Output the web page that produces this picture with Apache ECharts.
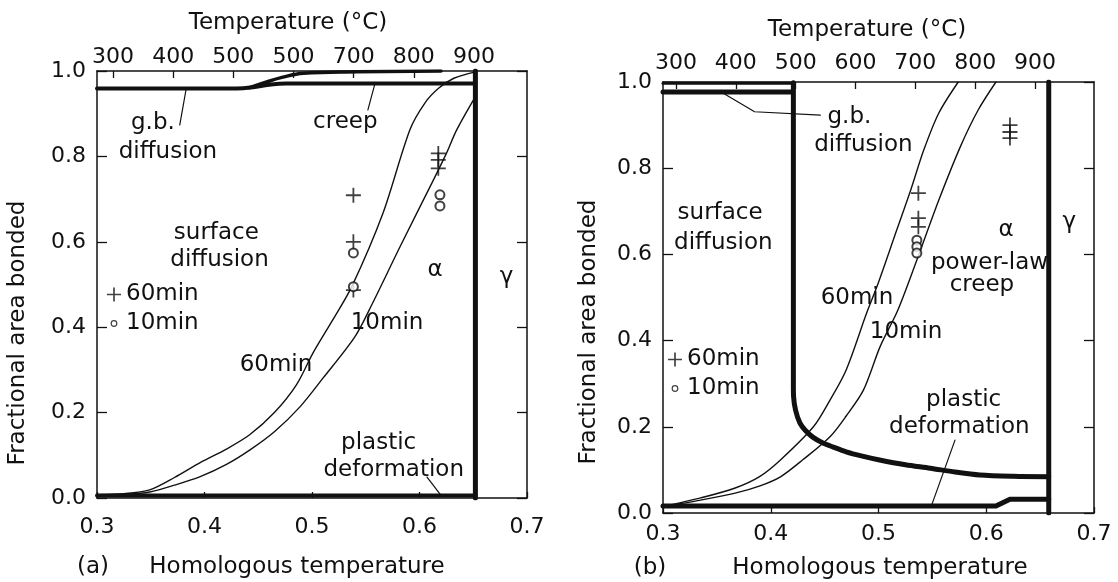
<!DOCTYPE html>
<html>
<head>
    <meta charset="UTF-8" />
    <title>Fractional area bonded</title>
    <script src="https://cdn.jsdelivr.net/npm/echarts@6/dist/echarts.min.js"></script>
    <style>
        html, body { margin: 0; padding: 0; background: #fff; }
        #main { width: 1118px; height: 582px; }
    </style>
</head>
<body>
<div id="main"></div>
<script type="text/javascript">
    // ---- data (homologous temperature, fraction bonded) ----
    var tempTicks = [300, 400, 500, 600, 700, 800, 900];
    var tempLabelsA = ['300', '400', '500', '500', '700', '800', '900'];   // printed that way in (a)
    var tempLabelsB = ['300', '400', '500', '600', '700', '800', '900'];

    // panel (a)
    var a60 = [[0.30, 0.008], [0.325, 0.01], [0.349, 0.019], [0.372, 0.048], [0.396, 0.083], [0.42, 0.114],
        [0.442, 0.148], [0.465, 0.2], [0.4855, 0.265], [0.501, 0.34], [0.52, 0.42], [0.537, 0.495],
        [0.566, 0.667], [0.591, 0.862], [0.605, 0.925], [0.618, 0.96], [0.632, 0.983], [0.652, 0.998]];
    var a10 = [[0.30, 0.008], [0.33, 0.009], [0.349, 0.014], [0.372, 0.03], [0.396, 0.05], [0.42, 0.078],
        [0.442, 0.112], [0.465, 0.155], [0.489, 0.214], [0.51, 0.28], [0.54, 0.378], [0.5555, 0.452],
        [0.582, 0.589], [0.613, 0.745], [0.625, 0.807], [0.6346, 0.862], [0.652, 0.94]];
    var aGbLine = [[0.30, 0.959], [0.43, 0.959], [0.445, 0.962], [0.46, 0.968], [0.476, 0.971], [0.652, 0.971]];
    var aCreepLine = [[0.442, 0.961], [0.455, 0.972], [0.472, 0.985], [0.492, 0.995], [0.542, 0.998], [0.62, 1.0]];
    var aPlastic = [[0.30, 0.006], [0.652, 0.006]];
    var aPhase = [[0.652, 0.0], [0.652, 1.0]];
    var aPlus60 = [[0.5385, 0.709], [0.5385, 0.6], [0.5385, 0.487], [0.6175, 0.807], [0.6175, 0.792], [0.6175, 0.772]];
    var aCirc10 = [[0.5385, 0.574], [0.5385, 0.495], [0.619, 0.71], [0.619, 0.684]];
    var aLeaders = [
        [[0.377, 0.874], [0.383, 0.959]],
        [[0.552, 0.909], [0.5586, 0.971]],
        [[0.607, 0.049], [0.62, 0.006]]
    ];
    var aNotes = [[0.352, 0.878, 'g.b.'], [0.366, 0.81, 'diffusion'], [0.531, 0.881, 'creep'],
        [0.411, 0.62, 'surface'], [0.414, 0.557, 'diffusion'], [0.4665, 0.311, '60min'],
        [0.5698, 0.41, '10min'], [0.6144, 0.534, 'α'], [0.681, 0.518, 'γ'],
        [0.562, 0.128, 'plastic'], [0.576, 0.066, 'deformation']];

    // panel (b)
    var b60 = [[0.30, 0.015], [0.335, 0.035], [0.367, 0.058], [0.39, 0.085], [0.409, 0.123], [0.4396, 0.2],
        [0.455, 0.262], [0.47, 0.332], [0.489, 0.464], [0.4997, 0.533], [0.517, 0.657], [0.53, 0.75],
        [0.542, 0.842], [0.556, 0.928], [0.574, 1.0]];
    var b10 = [[0.30, 0.015], [0.335, 0.03], [0.367, 0.046], [0.39, 0.063], [0.409, 0.084], [0.43, 0.124],
        [0.455, 0.177], [0.47, 0.225], [0.486, 0.285], [0.5015, 0.386], [0.518, 0.471], [0.5356, 0.587],
        [0.556, 0.726], [0.576, 0.85], [0.5925, 0.935], [0.609, 1.0]];
    var bGbLine = [[0.30, 0.977], [0.42, 0.977]];
    var bGbTop = [[0.30, 0.997], [0.42, 0.997]];
    var bCreepLine = [[0.421, 0.998], [0.421, 0.3], [0.4212, 0.27], [0.423, 0.239], [0.427, 0.209], [0.432, 0.192],
        [0.439, 0.176], [0.448, 0.163], [0.458, 0.153], [0.47, 0.142], [0.485, 0.132], [0.501, 0.123],
        [0.525, 0.112], [0.548, 0.104], [0.571, 0.095], [0.594, 0.088], [0.625, 0.085], [0.658, 0.084]];
    var bPlastic = [[0.30, 0.016], [0.609, 0.016], [0.622, 0.032], [0.658, 0.032]];
    var bPhase = [[0.658, 0.0], [0.658, 1.0]];
    var bPlus60 = [[0.537, 0.742], [0.537, 0.684], [0.537, 0.664], [0.622, 0.9], [0.622, 0.884], [0.622, 0.87]];
    var bCirc10 = [[0.5356, 0.633], [0.5356, 0.618], [0.5356, 0.603]];
    var bLeaders = [
        [[0.354, 0.977], [0.385, 0.931], [0.446, 0.923]],
        [[0.571, 0.169], [0.549, 0.016]]
    ];
    var bNotes = [[0.473, 0.919, 'g.b.'], [0.486, 0.854, 'diffusion'], [0.353, 0.696, 'surface'],
        [0.356, 0.626, 'diffusion'], [0.6185, 0.657, 'α'], [0.677, 0.675, 'γ'],
        [0.603, 0.58, 'power-law'], [0.596, 0.529, 'creep'], [0.48, 0.499, '60min'],
        [0.5256, 0.42, '10min'], [0.579, 0.262, 'plastic'], [0.575, 0.2, 'deformation']];

    var FONT = 'DejaVu Sans';
    var INK = '#111';
    var PLUS = 'path://M4.4,0h1.2v10h-1.2z M0,4.4h10v1.2h-10z';
    // small ring for the legend, padded to a 14x14 box by two tiny corner specks
    var RING = 'path://M0,0h0.01v0.01h-0.01z M14,14h-0.01v-0.01h0.01z ' +
        'M3.6,7A3.4,3.4 0 1,1 10.4,7A3.4,3.4 0 1,1 3.6,7Z M4.8,7A2.2,2.2 0 1,0 9.2,7A2.2,2.2 0 1,0 4.8,7Z';

    var myChart = echarts.init(document.getElementById('main'));

    function fmt1(v) { return v.toFixed(1); }

    function axisBase() {
        return {
            axisLine: { show: true, onZero: false, lineStyle: { color: INK, width: 1.5 } },
            axisTick: { show: true, inside: true, length: 7, lineStyle: { color: INK, width: 1.3 } },
            splitLine: { show: false },
            axisLabel: { color: INK, fontFamily: FONT, fontSize: 22 }
        };
    }

    function xBottom(gi, margin) {
        var ax = axisBase();
        ax.type = 'value'; ax.gridIndex = gi; ax.position = 'bottom';
        ax.min = 0.3; ax.max = 0.7; ax.interval = 0.1;
        ax.axisLabel.formatter = fmt1; ax.axisLabel.margin = margin;
        ax.axisTick.length = 6;
        return ax;
    }

    function xTop(gi, lo, hi, labels, margin) {
        var ax = axisBase();
        ax.type = 'value'; ax.gridIndex = gi; ax.position = 'top';
        ax.min = lo; ax.max = hi;
        ax.axisTick.customValues = tempTicks;
        ax.axisLabel.customValues = tempTicks;
        ax.axisLabel.margin = margin;
        ax.axisLabel.formatter = function (v) {
            var i = tempTicks.indexOf(Math.round(v));
            return i >= 0 ? labels[i] : '';
        };
        return ax;
    }

    function yLeft(gi) {
        var ax = axisBase();
        ax.type = 'value'; ax.gridIndex = gi; ax.position = 'left';
        ax.min = 0; ax.max = 1; ax.interval = 0.2;
        ax.axisTick.length = 10;
        ax.axisLabel.formatter = fmt1; ax.axisLabel.margin = 11;
        return ax;
    }

    function yRight(gi) {
        var ax = axisBase();
        ax.type = 'value'; ax.gridIndex = gi; ax.position = 'right';
        ax.min = 0; ax.max = 1; ax.interval = 0.2;
        ax.axisTick.length = 10;
        ax.axisLabel.show = false;
        return ax;
    }

    function lineS(gi, data, w, smooth) {
        return {
            type: 'line', xAxisIndex: gi * 2, yAxisIndex: gi * 2, data: data,
            symbol: 'none', smooth: smooth || false, silent: true, z: 3,
            lineStyle: { color: INK, width: w, cap: 'round', join: 'round' }
        };
    }

    // text notes placed at data coordinates
    function noteS(gi, notes) {
        return {
            type: 'scatter', xAxisIndex: gi * 2, yAxisIndex: gi * 2, silent: true, z: 5,
            symbolSize: 1, itemStyle: { color: 'rgba(0,0,0,0)' },
            label: { show: true, position: [0.5, 0.5], align: 'center', verticalAlign: 'middle',
                color: INK, opacity: 1, textBorderWidth: 0, fontFamily: FONT, fontSize: 23,
                formatter: function (p) { return p.data[2]; } },
            data: notes
        };
    }

    function markS(gi, name, data, isPlus) {
        return {
            type: 'scatter', name: name, xAxisIndex: gi * 2, yAxisIndex: gi * 2, z: 4, silent: true,
            symbol: isPlus ? PLUS : 'emptyCircle', symbolSize: isPlus ? 15 : 9,
            itemStyle: isPlus ? { color: INK } : { color: INK, borderColor: INK, borderWidth: 1.4 },
            data: data
        };
    }

    var series = [];
    // (a)
    series.push(lineS(0, a60, 1.4, 0.3));
    series.push(lineS(0, a10, 1.4, 0.3));
    series.push(lineS(0, aGbLine, 4, 0.4));
    series.push(lineS(0, aCreepLine, 3.5, 0.4));
    series.push(lineS(0, aPlastic, 4));
    series.push(lineS(0, aPhase, 5));
    aLeaders.forEach(function (l) { series.push(lineS(0, l, 1.2)); });
    series.push(markS(0, '60min', aPlus60, true));
    series.push(markS(0, '10min', aCirc10, false));
    series.push(noteS(0, aNotes));
    // (b)
    series.push(lineS(1, b60, 1.4, 0.3));
    series.push(lineS(1, b10, 1.4, 0.3));
    series.push(lineS(1, bGbLine, 5));
    series.push(lineS(1, bGbTop, 3));
    series.push(lineS(1, bCreepLine, 5, 0.3));
    series.push(lineS(1, bPlastic, 5));
    series.push(lineS(1, bPhase, 5));
    bLeaders.forEach(function (l) { series.push(lineS(1, l, 1.2)); });
    series.push(markS(1, '60min', bPlus60, true));
    series.push(markS(1, '10min', bCirc10, false));
    series.push(noteS(1, bNotes));

    function legendAt(left, top) {
        return {
            data: [
                { name: '60min', icon: PLUS, itemStyle: { color: INK, borderWidth: 0 } },
                { name: '10min', icon: RING, itemStyle: { color: INK, borderWidth: 0 } }
            ],
            orient: 'vertical', left: left, top: top,
            itemWidth: 14, itemHeight: 14, itemGap: 6, padding: 0, selectedMode: false,
            textStyle: { color: INK, fontFamily: FONT, fontSize: 23 }
        };
    }

    function txt(x, y, s, rot) {
        return {
            type: 'text', x: x, y: y, rotation: rot || 0, silent: true,
            style: { text: s, fill: INK, fontFamily: FONT, fontSize: 23,
                textAlign: 'center', textVerticalAlign: 'middle' }
        };
    }

    var option = {
        backgroundColor: '#fff',
        animation: false,
        grid: [
            { left: 97, top: 71, width: 430, height: 427 },
            { left: 663, top: 82, width: 431, height: 431 }
        ],
        xAxis: [
            xBottom(0, 18), xTop(0, 273.4, 988.1, tempLabelsA, 3),
            xBottom(1, 10), xTop(1, 278.3, 998.6, tempLabelsB, 8)
        ],
        yAxis: [yLeft(0), yRight(0), yLeft(1), yRight(1)],
        legend: [legendAt(107, 283), legendAt(668, 348)],
        graphic: [
            txt(288, 23, 'Temperature (°C)'),
            txt(867, 30, 'Temperature (°C)'),
            txt(18, 333, 'Fractional area bonded', Math.PI / 2),
            txt(589, 332, 'Fractional area bonded', Math.PI / 2),
            txt(93, 567, '(a)'),
            txt(297, 567, 'Homologous temperature'),
            txt(650, 568, '(b)'),
            txt(880, 568, 'Homologous temperature')
        ],
        series: series
    };

    myChart.setOption(option);
</script>
</body>
</html>
